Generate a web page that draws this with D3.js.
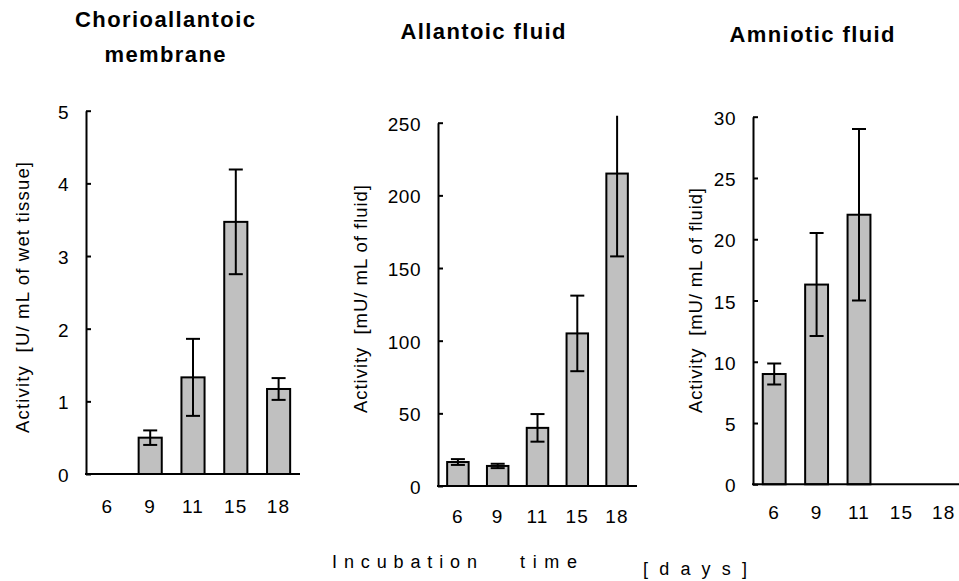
<!DOCTYPE html>
<html>
  <head>
    <meta charset="utf-8">
    <title>Enzyme activity during incubation</title>
    <script src="https://d3js.org/d3.v7.min.js"></script>
    <style>
      body { margin: 0; background: #fff; }
      text { font-family: Arial, "Liberation Sans", sans-serif; fill: #000; white-space: pre; }
    </style>
  </head>
  <body>
    <div id="chart"></div>
    <script>
      // incubation days (shared categories)
      var days = ["6", "9", "11", "15", "18"];

      // chorioallantoic membrane, U/mL of wet tissue
      var cmMean = [null, 0.5, 1.33, 3.47, 1.17];
      var cmErr  = [null, 0.1, 0.53, 0.72, 0.15];
      var cmTicks = [0, 1, 2, 3, 4, 5];

      // allantoic fluid, mU/mL
      var afMean = [16.5, 13.8, 40, 105, 215];
      var afErr  = [2, 1.5, 9.5, 26, 57];
      var afTicks = [0, 50, 100, 150, 200, 250];

      // amniotic fluid, mU/mL
      var amMean = [9, 16.3, 22, null, null];
      var amErr  = [0.85, 4.2, 7, null, null];
      var amTicks = [0, 5, 10, 15, 20, 25, 30];

      var svg = d3.select("#chart").append("svg")
        .attr("width", 959)
        .attr("height", 581);

      var panels = [
        { id: "cm", title: ["Chorioallantoic", "membrane"], titleW: [180, 121], titleX: 165, titleY: 27,
          ylab: "Activity  [U/ mL of wet tissue]", ylabW: 271, ylabX: 22, ylabY: 297.5,
          mean: cmMean, err: cmErr, ticks: cmTicks,
          x0: 86, x1: 300, yTop: 110.7, yBot: 474, labY: 513 },
        { id: "af", title: ["Allantoic fluid"], titleW: [165], titleX: 483, titleY: 39,
          ylab: "Activity  [mU/ mL of fluid]", ylabW: 228, ylabX: 360, ylabY: 299,
          mean: afMean, err: afErr, ticks: afTicks,
          x0: 438, x1: 637, yTop: 122.7, yBot: 486, labY: 523 },
        { id: "am", title: ["Amniotic fluid"], titleW: [165], titleX: 812, titleY: 42,
          ylab: "Activity  [mU/ mL of fluid]", ylabW: 225, ylabX: 695, ylabY: 300.5,
          mean: amMean, err: amErr, ticks: amTicks,
          x0: 753, x1: 965, yTop: 116.7, yBot: 484.3, labY: 519 }
      ];

      panels.forEach(function(p) {
        var x = d3.scaleBand().domain(days).range([p.x0, p.x1])
          .paddingInner(0.46).paddingOuter(0.23);
        var y = d3.scaleLinear().domain([0, d3.max(p.ticks)]).range([p.yBot, p.yTop]);
        var rows = days.map(function(d, i) { return { day: d, v: p.mean[i], e: p.err[i] }; })
          .filter(function(r) { return r.v != null; });

        var g = svg.append("g");

        svg.append("clipPath").attr("id", "clip-" + p.id)
          .append("rect")
          .attr("x", p.x0).attr("y", p.yTop - 7)
          .attr("width", p.x1 - p.x0).attr("height", p.yBot - p.yTop + 7);

        // title
        p.title.forEach(function(line, i) {
          g.append("text")
            .attr("x", p.titleX - p.titleW[i] / 2).attr("y", p.titleY + i * 35)
            .attr("textLength", p.titleW[i]).attr("lengthAdjust", "spacing")
            .style("font-size", "22px").style("font-weight", "bold")
            .text(line);
        });

        // bars
        g.selectAll(".bar").data(rows).enter().append("rect")
          .attr("x", function(d) { return x(d.day); })
          .attr("y", function(d) { return y(d.v); })
          .attr("width", x.bandwidth())
          .attr("height", function(d) { return y(0) - y(d.v); })
          .attr("fill", "#c0c0c0")
          .attr("stroke", "#000")
          .attr("stroke-width", 2);

        // error bars
        var eb = g.append("g").attr("clip-path", "url(#clip-" + p.id + ")")
          .attr("stroke", "#000").attr("stroke-width", 2);
        rows.forEach(function(d) {
          var cx = x(d.day) + x.bandwidth() / 2;
          eb.append("line").attr("x1", cx).attr("x2", cx)
            .attr("y1", y(d.v - d.e)).attr("y2", y(d.v + d.e));
          [d.v - d.e, d.v + d.e].forEach(function(v) {
            eb.append("line").attr("x1", cx - 7).attr("x2", cx + 7)
              .attr("y1", y(v)).attr("y2", y(v));
          });
        });

        // y axis, ticks pointing inward
        var ya = g.append("g").attr("transform", "translate(" + p.x0 + ",0)")
          .call(d3.axisRight(y).tickValues(p.ticks).tickFormat(d3.format("d"))
            .tickSize(5).tickSizeOuter(0));
        ya.select(".domain").attr("stroke-width", 2);
        ya.selectAll(".tick line").attr("stroke-width", 2);
        ya.selectAll(".tick text")
          .attr("x", -17).attr("dy", "0.4em")
          .attr("text-anchor", "end")
          .style("font-size", "19px").style("letter-spacing", "0.5px");

        // x axis line
        g.append("line")
          .attr("x1", p.x0 - 1).attr("x2", p.x1)
          .attr("y1", y(0)).attr("y2", y(0))
          .attr("stroke", "#000").attr("stroke-width", 2);

        // category labels
        g.selectAll(".xl").data(days).enter().append("text")
          .attr("x", function(d) { return x(d) + x.bandwidth() / 2; })
          .attr("y", p.labY)
          .attr("text-anchor", "middle")
          .style("font-size", "19px").style("letter-spacing", "1.2px")
          .text(function(d) { return d; });

        // y label
        g.append("text")
          .attr("transform", "translate(" + (p.ylabX + 6.5) + "," + (p.ylabY + p.ylabW / 2) + ") rotate(-90)")
          .attr("textLength", p.ylabW).attr("lengthAdjust", "spacing")
          .style("font-size", "18.5px")
          .text(p.ylab);
      });

      // shared x label
      var xl = svg.append("g").style("font-size", "18px");
      xl.append("text").attr("x", 332).attr("y", 568)
        .attr("textLength", 145).attr("lengthAdjust", "spacing").text("Incubation");
      xl.append("text").attr("x", 520).attr("y", 568)
        .attr("textLength", 57).attr("lengthAdjust", "spacing").text("time");
      xl.append("text").attr("x", 643).attr("y", 575)
        .attr("textLength", 104).attr("lengthAdjust", "spacing").text("[days]");
    </script>
  </body>
</html>
